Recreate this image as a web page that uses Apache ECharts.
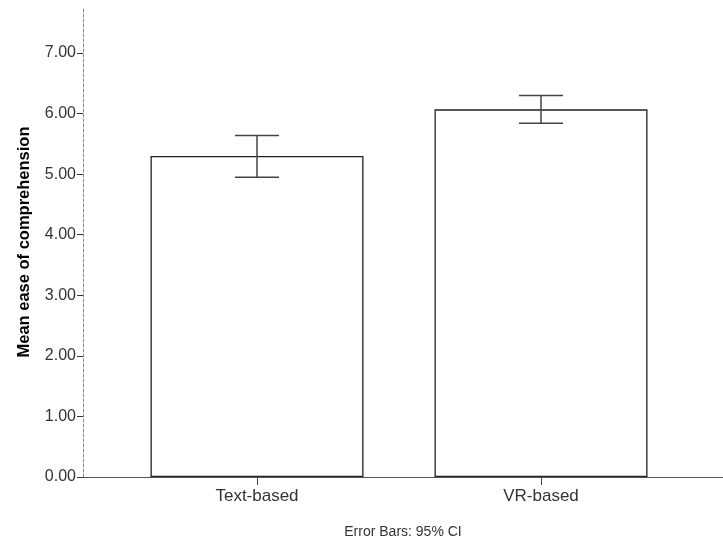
<!DOCTYPE html>
<html><head><meta charset="utf-8">
<script src="https://cdn.jsdelivr.net/npm/echarts@6/dist/echarts.min.js"></script>
<style>html,body{margin:0;padding:0;background:#fff}#c{width:723px;height:544px}</style>
</head><body><div id="c"></div>
<script>
const categories = ['Text-based', 'VR-based'];
const means = [5.30, 6.07];
const ciLower = [4.95, 5.84];
const ciUpper = [5.64, 6.30];
const yTicks = [0, 1, 2, 3, 4, 5, 6, 7];
const yMax = 7.76;
const footnote = 'Error Bars: 95% CI';
const yTitle = 'Mean ease of comprehension';

const chart = echarts.init(document.getElementById('c'), null, {renderer: 'canvas'});
const font = 'Liberation Sans, Arial, sans-serif';
chart.setOption({
  animation: false,
  backgroundColor: '#fff',
  grid: [
    {left: 115, right: 40, top: 7, bottom: 67},
    {left: 83, right: 0, top: 7, bottom: 67}
  ],
  xAxis: [
    {
      type: 'category', data: categories, gridIndex: 0,
      axisLine: {show: false},
      axisTick: {show: true, alignWithLabel: true, length: 8, lineStyle: {color: '#444', width: 1}},
      axisLabel: {color: '#333', fontFamily: font, fontSize: 17, margin: 11}
    },
    {
      type: 'value', gridIndex: 1, min: 0, max: 1,
      axisLine: {show: true, lineStyle: {color: '#555', width: 1}},
      axisTick: {show: false}, axisLabel: {show: false}, splitLine: {show: false},
      name: footnote, nameLocation: 'middle', nameGap: 48,
      nameTextStyle: {color: '#333', fontFamily: font, fontSize: 14}
    }
  ],
  yAxis: [
    {
      type: 'value', gridIndex: 0, min: 0, max: yMax, interval: 1, offset: 32,
      axisLine: {show: true, lineStyle: {color: '#888', type: [3, 2], width: 1}},
      axisTick: {show: true, length: 6, customValues: yTicks, lineStyle: {color: '#333'}},
      axisLabel: {customValues: yTicks, formatter: v => v.toFixed(2), color: '#333', fontFamily: font, fontSize: 16, margin: 7},
      splitLine: {show: false},
      name: yTitle, nameLocation: 'middle', nameGap: 50,
      nameTextStyle: {color: '#000', fontFamily: font, fontSize: 16.5, fontWeight: 'bold'}
    },
    {type: 'value', gridIndex: 1, min: 0, max: 1, show: false}
  ],
  series: [
    {
      type: 'bar', xAxisIndex: 0, yAxisIndex: 0, data: means, barWidth: 213,
      itemStyle: {color: '#fff', borderColor: '#222', borderWidth: 1.3},
      emphasis: {disabled: true}
    },
    {
      type: 'custom', xAxisIndex: 0, yAxisIndex: 0,
      data: categories.map((c, i) => [i, ciLower[i], ciUpper[i]]),
      renderItem: function (params, api) {
        const lo = api.coord([api.value(0), api.value(1)]);
        const hi = api.coord([api.value(0), api.value(2)]);
        const hw = 22;
        const st = {stroke: '#444', lineWidth: 1.5, fill: null};
        return {type: 'group', children: [
          {type: 'line', shape: {x1: lo[0], y1: lo[1], x2: hi[0], y2: hi[1]}, style: st},
          {type: 'line', shape: {x1: lo[0] - hw, y1: lo[1], x2: lo[0] + hw, y2: lo[1]}, style: st},
          {type: 'line', shape: {x1: hi[0] - hw, y1: hi[1], x2: hi[0] + hw, y2: hi[1]}, style: st}
        ]};
      },
      z: 5
    }
  ]
});
</script></body></html>
